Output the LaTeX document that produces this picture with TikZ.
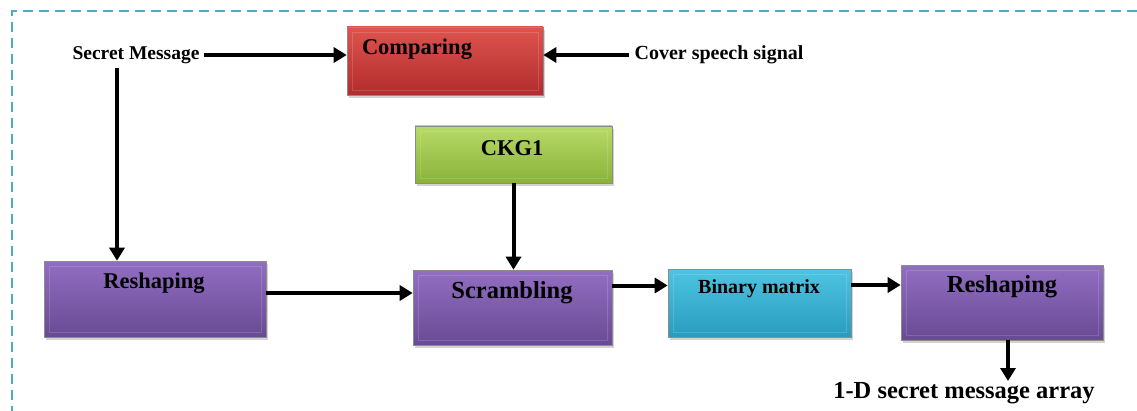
\documentclass[tikz,border=0pt]{standalone}
\usepackage{fontspec}
\setmainfont{Liberation Serif}
\usepackage{tikz}
\usetikzlibrary{positioning,arrows.meta,shadows}
\usepackage{xcolor}

\definecolor{frameblue}{RGB}{75,172,198}
\definecolor{redtop}{RGB}{222,84,78}
\definecolor{redbot}{RGB}{178,44,44}
\definecolor{greentop}{RGB}{184,218,104}
\definecolor{greenbot}{RGB}{138,178,56}
\definecolor{purpletop}{RGB}{146,110,194}
\definecolor{purplebot}{RGB}{104,74,148}
\definecolor{cyantop}{RGB}{78,196,226}
\definecolor{cyanbot}{RGB}{40,156,190}

\tikzset{
  block/.style={minimum width=#1, inner sep=0pt, draw=black!45, line width=0.6pt,
    drop shadow={shadow xshift=2pt, shadow yshift=-3pt, opacity=0.35},
    path picture={\draw[white, opacity=0.15, line width=0.8pt]
      ([shift={(5pt,-5pt)}]path picture bounding box.north west) rectangle
      ([shift={(-5pt,5pt)}]path picture bounding box.south east);}},
  redbox/.style={top color=redtop, bottom color=redbot},
  greenbox/.style={top color=greentop, bottom color=greenbot},
  purplebox/.style={top color=purpletop, bottom color=purplebot},
  cyanbox/.style={top color=cyantop, bottom color=cyanbot},
  txt/.style={font=\bfseries, inner sep=1pt},
  flow/.style={line width=4pt, -{Triangle[length=13pt,width=15pt]}}
}

\begin{document}
\begin{tikzpicture}[x=1pt, y=1pt]
\useasboundingbox (0,0) rectangle (1137,410);
\begin{scope}
\clip (0,0) rectangle (1137,410);
\draw[frameblue, line width=2.5pt, dash pattern=on 10pt off 6pt] (12,-6) rectangle (1145,399);
\end{scope}

% inputs
\node[txt, inner sep=4pt, font=\fontsize{19.5}{21}\bfseries\selectfont] (sm) at (136,355) {Secret Message};
\node[txt, inner sep=5pt, font=\fontsize{20}{22}\bfseries\selectfont] (cov) at (719,355) {Cover speech signal};

% top row
\node[block=196pt, redbox, minimum height=68pt] (cmp) at (445,349) {};
\node[txt, font=\fontsize{22.5}{24}\bfseries\selectfont] (cmpl) at (417,361) {Comparing};
\node[block=197pt, greenbox, minimum height=57pt] (ckg) at (513.5,255.5) {};
\node[txt, font=\fontsize{22.5}{24}\bfseries\selectfont] (ckgl) at (512,262) {CKG1};

% bottom row
\node[block=222pt, purplebox, minimum height=76pt] (rs1) at (155,111) {};
\node[txt, font=\fontsize{22.5}{24}\bfseries\selectfont] (rs1l) at (154,127) {Reshaping};
\node[block=199pt, purplebox, minimum height=75pt] (scr) at (512.5,102.5) {};
\node[txt, font=\fontsize{24.5}{26}\bfseries\selectfont] (scrl) at (512,117) {Scrambling};
\node[block=183pt, cyanbox, minimum height=68pt] (bin) at (759.5,107) {};
\node[txt, font=\fontsize{20}{22}\bfseries\selectfont] (binl) at (759,121) {Binary matrix};
\node[block=202pt, purplebox, minimum height=75pt] (rs2) at (1002,107.5) {};
\node[txt, font=\fontsize{24.5}{26}\bfseries\selectfont] (rs2l) at (1002,123) {Reshaping};

% output
\node[txt, font=\fontsize{24.5}{26}\bfseries\selectfont] (out) at (964,17) {1-D secret message array};

% connectors
\draw[flow] (sm.east) -- (sm.east -| cmp.west);
\draw[flow] (cov.west) -- (cov.west -| cmp.east);
\draw[flow] ([xshift=-19pt]sm.south) -- ([xshift=-19pt]sm.south |- rs1.north);
\draw[flow] (ckg.south) -- (ckg.south |- scr.north);
\draw[flow] ([yshift=6pt]rs1.east) -- ([yshift=6pt]rs1.east -| scr.west);
\draw[flow] ([yshift=22pt]scr.east) -- ([yshift=22pt]scr.east -| bin.west);
\draw[flow] ([yshift=18pt]bin.east) -- ([yshift=18pt]bin.east -| rs2.west);
\draw[flow] ([xshift=6pt]rs2.south) -- ([xshift=6pt]rs2.south |- out.north);
\end{tikzpicture}
\end{document}
